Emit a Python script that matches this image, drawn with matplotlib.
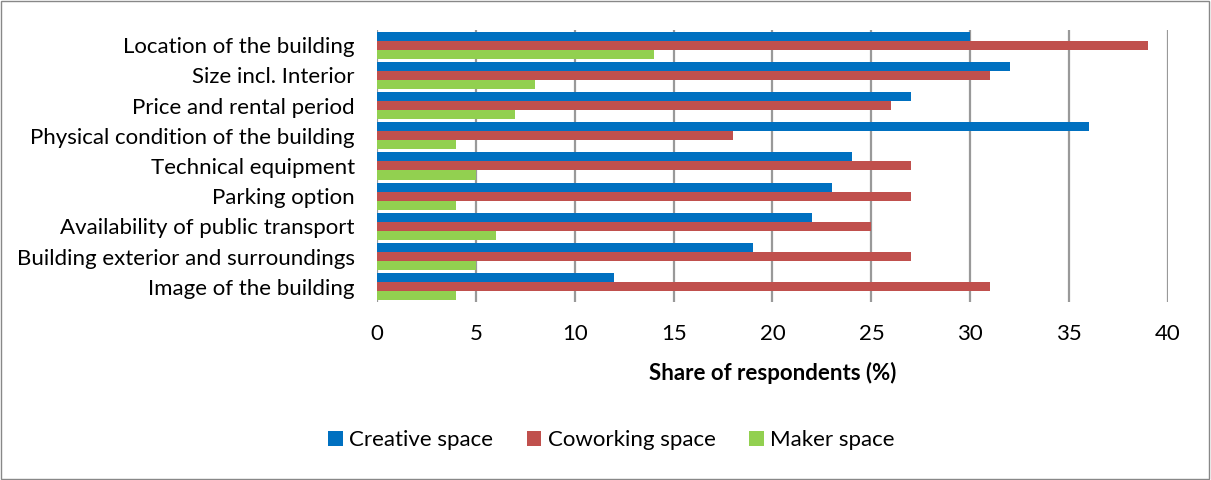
import matplotlib
matplotlib.use("Agg")
import matplotlib.pyplot as plt
import numpy as np
from matplotlib.patches import Rectangle

categories = ["Location of the building", "Size incl. Interior", "Price and rental period",
              "Physical condition of the building", "Technical equipment", "Parking option",
              "Availability of public transport", "Building exterior and surroundings",
              "Image of the building"]
creative = [30, 32, 27, 36, 24, 23, 22, 19, 12]
coworking = [39, 31, 26, 18, 27, 27, 25, 27, 31]
maker = [14, 8, 7, 4, 5, 4, 6, 5, 4]
xticks = [0, 5, 10, 15, 20, 25, 30, 35, 40]

plt.rcParams['font.family'] = ['Lato', 'DejaVu Sans']

fig = plt.figure(figsize=(12.11, 4.80), dpi=100)
ax = fig.add_axes([0.3113, 0.371, 0.6532, 0.5665])

n = len(categories)
y = np.arange(n)
h = 0.3
ax.barh(y - h, creative, height=h, color="#0070C0", label="Creative space", zorder=3)
ax.barh(y, coworking, height=h, color="#C0504D", label="Coworking space", zorder=3)
ax.barh(y + h, maker, height=h, color="#92D050", label="Maker space", zorder=3)

ax.set_ylim(n - 0.5, -0.5)
ax.set_xlim(0, 40)
ax.set_xticks(xticks)
ax.set_xticklabels([str(t) for t in xticks])
ax.set_yticks(y)
ax.set_yticklabels(categories)
ax.tick_params(axis='both', length=0, labelsize=16, colors="#000000")
ax.tick_params(axis='x', pad=16)
ax.tick_params(axis='y', pad=16)
for s in ax.spines.values():
    s.set_visible(False)
ax.grid(axis='x', color="#999999", linewidth=1.6, zorder=0)
ax.set_xlabel("Share of respondents (%)", fontsize=16, fontweight='bold', labelpad=13)

leg = fig.legend(loc='center', bbox_to_anchor=(0.505, 0.083), ncol=3, frameon=False,
                 fontsize=16, handlelength=0.65, handleheight=0.65, handletextpad=0.3,
                 columnspacing=1.5)

fig.patches.append(Rectangle((0.001, 0.002), 0.997, 0.995, transform=fig.transFigure,
                             fill=False, edgecolor="#888888", linewidth=1))

fig.savefig("out.png", dpi=100)
